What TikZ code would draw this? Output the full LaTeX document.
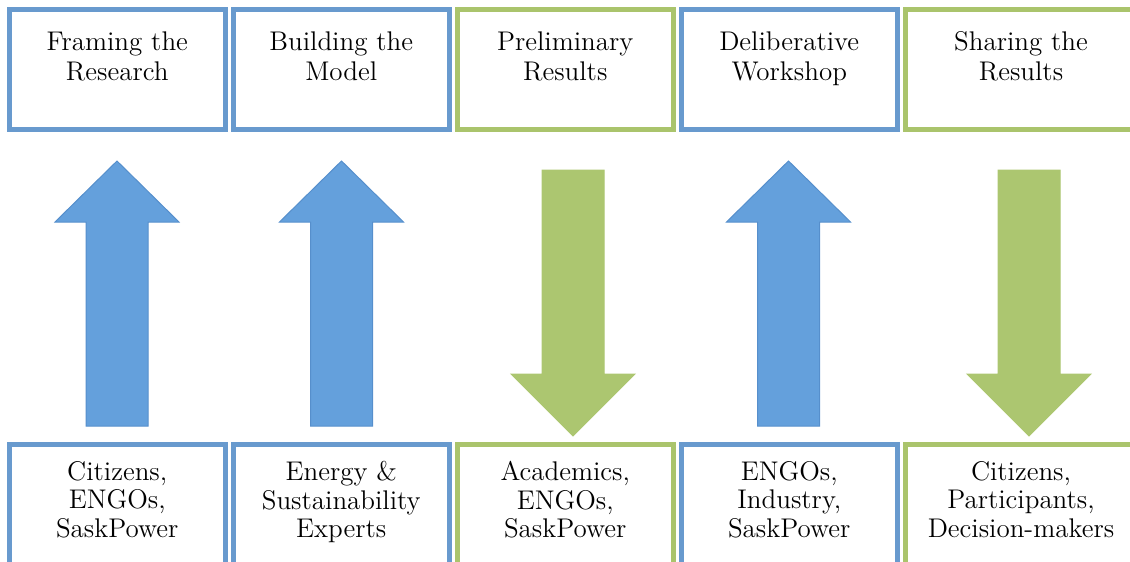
\documentclass[tikz,border=0pt]{standalone}
\usepackage{tikz}
\definecolor{stageblue}{RGB}{104,154,206}
\definecolor{stagegreen}{RGB}{170,196,108}
\definecolor{arrowblue}{RGB}{100,160,220}
\definecolor{arrowedge}{RGB}{86,143,204}
\definecolor{arrowgreen}{RGB}{172,198,112}

\begin{document}
\begin{tikzpicture}[x=0.5pt,y=-0.5pt
  ,line join=miter
  ,font=\fontsize{13.5}{15}\selectfont]
  \tikzstyle{stage}
  =[draw,line width=2.5pt,outer sep=0pt,inner sep=0pt
  ,minimum width=107.75pt]
  \tikzstyle{upper}=[stage,minimum height=60pt]
  \tikzstyle{lower}=[stage,minimum height=70pt]
  \tikzstyle{toptext}=[anchor=north,align=center,inner sep=0pt,yshift=-11pt]
  \tikzstyle{lowtext}=[anchor=north,align=center,inner sep=0pt,yshift=-8.5pt
  ,font=\fontsize{13.5}{14.25}\selectfont]
  \tikzstyle{uparrow}=[fill=arrowblue,draw=arrowedge,line width=0.5pt]
  \tikzstyle{downarrow}=[fill=arrowgreen,draw=arrowgreen,line width=0.5pt]

  \useasboundingbox (0,0) rectangle (1130,562);

  % stages
  \node[upper,draw=stageblue,label={[toptext]north:{Framing the\\Research}}]
    (frame) at (117.25,69.5) {};
  \node[upper,draw=stageblue,label={[toptext]north:{Building the\\Model}}]
    (build) at (341.25,69.5) {};
  \node[upper,draw=stagegreen,label={[toptext]north:{Preliminary\\Results}}]
    (prelim) at (565.25,69.5) {};
  \node[upper,draw=stageblue,label={[toptext]north:{Deliberative\\Workshop}}]
    (delib) at (789.25,69.5) {};
  \node[upper,draw=stagegreen,minimum width=115.5pt
    ,label={[toptext]north:{Sharing the\\Results}}]
    (share) at (1021,69.5) {};

  % who takes part
  \node[lower,draw=stageblue,label={[lowtext]north:{Citizens,\\ENGOs,\\SaskPower}}]
    (frameppl) at (117.25,514) {};
  \node[lower,draw=stageblue,label={[lowtext]north:{Energy \&\\Sustainability\\Experts}}]
    (buildppl) at (341.25,514) {};
  \node[lower,draw=stagegreen,label={[lowtext]north:{Academics,\\ENGOs,\\SaskPower}}]
    (prelimppl) at (565.25,514) {};
  \node[lower,draw=stageblue,label={[lowtext]north:{ENGOs,\\Industry,\\SaskPower}}]
    (delibppl) at (789.25,514) {};
  \node[lower,draw=stagegreen,minimum width=115.5pt
    ,label={[lowtext]north:{Citizens,\\Participants,\\Decision-makers}}]
    (shareppl) at (1021,514) {};

  % block arrows
  \foreach \x in {117,341.5,788.5}
    \draw[uparrow] (\x,161) -- (\x+62,222) -- (\x+31,222) -- (\x+31,426)
      -- (\x-31,426) -- (\x-31,222) -- (\x-62,222) -- cycle;
  \foreach \x in {573,1029}
    \draw[downarrow] (\x,436) -- (\x+62,374) -- (\x+31,374) -- (\x+31,170)
      -- (\x-31,170) -- (\x-31,374) -- (\x-62,374) -- cycle;

\end{tikzpicture}
\end{document}
